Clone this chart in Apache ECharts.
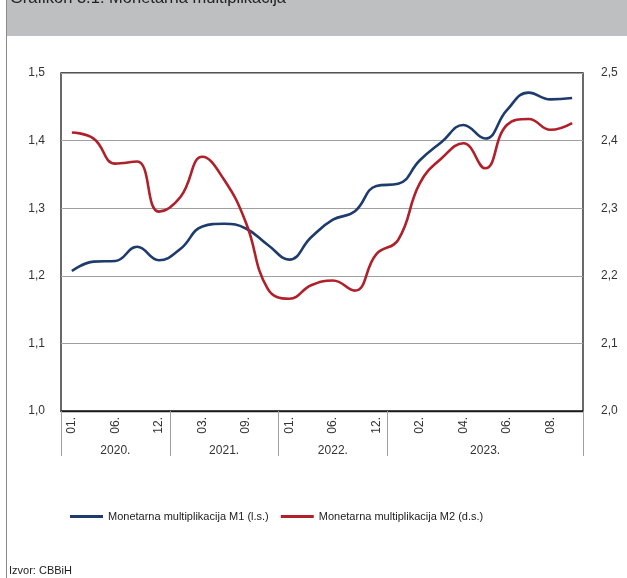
<!DOCTYPE html>
<html>
<head>
<meta charset="utf-8">
<script src="https://cdn.jsdelivr.net/npm/echarts@6/dist/echarts.min.js"></script>
<style>
  html, body { margin: 0; padding: 0; background: #fff; }
  #chart { width: 627px; height: 578px; }
</style>
</head>
<body>
<div id="chart"></div>
<script>
// periodi (kategorije) i godine
var months = ['01.', '03.', '06.', '09.', '12.',
              '01.', '03.', '06.', '09.', '12.',
              '01.', '03.', '06.', '09.', '12.',
              '01.', '02.', '03.', '04.', '05.', '06.', '07.', '08.', '09.'];
var years = ['', '', '2020.', '', '',
             '', '', '2021.', '', '',
             '', '', '2022.', '', '',
             '', '', '', '', '2023.', '', '', '', ''];
var yearStart = [0, 5, 10, 15];

// M1 (lijeva skala)
var m1 = [1.207, 1.221, 1.222, 1.243, 1.223,
          1.240, 1.273, 1.277, 1.270, 1.246,
          1.224, 1.257, 1.283, 1.295, 1.333,
          1.336, 1.371, 1.398, 1.423, 1.403, 1.445, 1.471, 1.461, 1.463];
// M2 (desna skala)
var m2 = [2.412, 2.403, 2.366, 2.369, 2.295,
          2.317, 2.376, 2.342, 2.279, 2.181,
          2.166, 2.186, 2.193, 2.178, 2.232,
          2.253, 2.337, 2.374, 2.396, 2.359, 2.423, 2.432, 2.416, 2.426];

var leftTicks = [1.0, 1.1, 1.2, 1.3, 1.4, 1.5];
var rightTicks = [2.0, 2.1, 2.2, 2.3, 2.4, 2.5];

function fmt(v) { return v.toFixed(1).replace('.', ','); }

var chart = echarts.init(document.getElementById('chart'));
chart.setOption({
  animation: false,
  textStyle: { fontFamily: 'Liberation Sans, Arial, sans-serif' },
  grid: {
    left: 61, right: 44, top: 73, bottom: 167,
    show: true, borderColor: '#1a1a1a', borderWidth: 1.3, backgroundColor: 'transparent'
  },
  graphic: [
    { type: 'rect', shape: { x: 7, y: 0, width: 620, height: 36 }, style: { fill: '#bebfc1' }, z: 0 },
    { type: 'line', shape: { x1: 6.5, y1: 0, x2: 6.5, y2: 578 }, style: { stroke: '#8a8a8a', lineWidth: 1 } },
    { type: 'text', x: 10, y: 7, style: { text: 'Grafikon 3.1. Monetarna multiplikacija', fill: '#222',
        font: '16.5px Liberation Sans, Arial, sans-serif', verticalAlign: 'bottom' } },
    { type: 'text', x: 9, y: 571, style: { text: 'Izvor: CBBiH', fill: '#222',
        font: '11px Liberation Sans, Arial, sans-serif', verticalAlign: 'middle' } }
  ],
  legend: {
    left: 65, top: 506,
    icon: 'rect', itemWidth: 33, itemHeight: 3, itemGap: 12,
    textStyle: { fontSize: 11, color: '#222' },
    data: ['Monetarna multiplikacija M1 (l.s.)', 'Monetarna multiplikacija M2 (d.s.)']
  },
  xAxis: [
    {
      type: 'category', data: months, position: 'bottom', boundaryGap: true,
      axisLine: { show: true, lineStyle: { color: '#1a1a1a', width: 1.3 } },
      axisTick: { show: false },
      axisLabel: {
        interval: function (i) { return i % 2 === 0; },
        rotate: 90, margin: 6, fontSize: 12, color: '#333'
      }
    },
    {
      type: 'category', data: years, position: 'bottom', boundaryGap: true,
      axisLine: { show: false },
      axisTick: {
        show: true, length: 45,
        interval: function (i) { return yearStart.indexOf(i) >= 0; },
        lineStyle: { color: '#a0a0a0', width: 1 }
      },
      axisLabel: { interval: 0, margin: 34, fontSize: 12, color: '#333' }
    }
  ],
  yAxis: [
    {
      type: 'value', min: leftTicks[0], max: leftTicks[leftTicks.length - 1], interval: 0.1,
      axisLine: { show: false }, axisTick: { show: false },
      axisLabel: { formatter: fmt, margin: 16, fontSize: 12, color: '#333' },
      splitLine: { show: true, lineStyle: { color: '#a0a0a0', width: 1 } }
    },
    {
      type: 'value', min: rightTicks[0], max: rightTicks[rightTicks.length - 1], interval: 0.1,
      position: 'right',
      axisLine: { show: false }, axisTick: { show: false },
      axisLabel: { formatter: fmt, margin: 18, fontSize: 12, color: '#333' },
      splitLine: { show: false }
    }
  ],
  series: [
    {
      name: 'Monetarna multiplikacija M1 (l.s.)', type: 'line', data: m1,
      xAxisIndex: 0, yAxisIndex: 0, smooth: 0.45, symbol: 'none',
      lineStyle: { color: '#1d3b6c', width: 2.6 }, itemStyle: { color: '#1d3b6c' }
    },
    {
      name: 'Monetarna multiplikacija M2 (d.s.)', type: 'line', data: m2,
      xAxisIndex: 0, yAxisIndex: 1, smooth: 0.45, symbol: 'none',
      lineStyle: { color: '#b0202a', width: 2.6 }, itemStyle: { color: '#b0202a' }
    }
  ]
});
</script>
</body>
</html>
